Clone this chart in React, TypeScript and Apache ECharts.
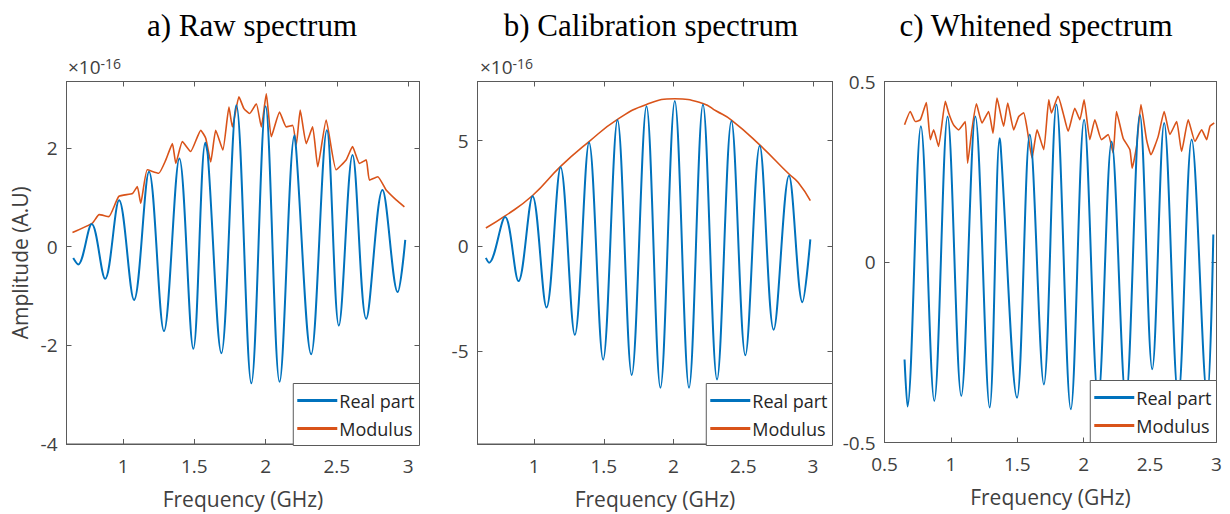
import React, { useEffect, useRef } from "react";
import * as echarts from "echarts";

// ---------- data (amplitudes of panels a and b in units of 1e-16) ----------
const rawReal: number[][] = [
  [0.65, -0.23], [0.685, -0.36], [0.78, 0.46], [0.874, -0.65], [0.972, 0.94], [1.077, -1.08],
  [1.182, 1.52], [1.287, -1.71], [1.395, 1.79], [1.493, -2.07], [1.577, 2.11], [1.595, 1.85],
  [1.69, -2.16], [1.795, 2.87], [1.9, -2.77], [2.0, 2.85], [2.098, -2.74], [2.203, 2.26],
  [2.215, 1.95], [2.32, -2.18], [2.43, 2.36], [2.514, -1.6], [2.61, 1.86], [2.706, -1.46],
  [2.82, 1.15], [2.927, -0.92], [2.98, 0.14],
];
const rawModulus: number[][] = [
  [0.645, 0.29], [0.785, 0.48], [0.832, 0.65], [0.9, 0.61], [0.97, 1.02], [1.066, 1.08],
  [1.1, 1.22], [1.124, 0.88], [1.17, 1.56], [1.25, 1.49], [1.3, 1.76], [1.346, 2.09],
  [1.37, 1.69], [1.416, 2.13], [1.474, 1.93], [1.545, 2.36], [1.58, 2.2], [1.615, 1.72],
  [1.65, 2.36], [1.7, 1.96], [1.743, 2.83], [1.767, 2.43], [1.813, 3.04], [1.848, 2.8],
  [1.888, 2.7], [1.935, 2.9], [1.97, 2.43], [2.005, 3.1], [2.04, 2.23], [2.098, 2.73],
  [2.145, 2.43], [2.19, 2.46], [2.215, 2.06], [2.243, 2.77], [2.285, 2.09], [2.33, 2.43],
  [2.366, 1.62], [2.425, 2.57], [2.495, 1.56], [2.565, 1.76], [2.61, 2.03], [2.659, 1.69],
  [2.706, 1.76], [2.729, 1.35], [2.787, 1.42], [2.846, 1.15], [2.916, 0.95], [2.974, 0.81],
];
const calReal: number[][] = [
  [0.654, -0.57], [0.677, -0.8], [0.792, 1.37], [0.888, -1.67], [0.989, 2.36], [1.089, -2.92],
  [1.19, 3.73], [1.292, -4.22], [1.394, 4.91], [1.495, -5.4], [1.598, 5.97], [1.7, -6.13],
  [1.806, 6.63], [1.906, -6.73], [2.009, 6.87], [2.111, -6.73], [2.211, 6.71], [2.312, -6.34],
  [2.415, 5.92], [2.515, -5.19], [2.618, 4.75], [2.718, -3.98], [2.828, 3.33], [2.924, -2.67],
  [2.981, 0.31],
];
const calModulus: number[][] = [
  [0.654, 0.85], [0.792, 1.42], [0.989, 2.39], [1.19, 3.77], [1.394, 4.95], [1.598, 6.0],
  [1.806, 6.71], [2.009, 6.98], [2.211, 6.76], [2.307, 6.4], [2.415, 5.97], [2.618, 4.79],
  [2.828, 3.41], [2.893, 3.02], [2.981, 2.15],
];
const whiteReal: number[][] = [
  [0.651, -0.27], [0.673, -0.4], [0.774, 0.376], [0.875, -0.385], [0.975, 0.403], [1.078, -0.371],
  [1.184, 0.403], [1.292, -0.403], [1.367, 0.343], [1.375, 0.32], [1.498, -0.376], [1.594, 0.353],
  [1.7, -0.339], [1.795, 0.436], [1.903, -0.408], [2.003, 0.394], [2.109, -0.38], [2.21, 0.334],
  [2.317, -0.38], [2.423, 0.408], [2.516, -0.297], [2.606, 0.385], [2.712, -0.375], [2.813, 0.339],
  [2.93, -0.375], [2.976, 0.076],
];
const whiteModulus: number[][] = [
  [0.651, 0.38], [0.694, 0.417], [0.732, 0.389], [0.77, 0.394], [0.815, 0.442], [0.845, 0.339],
  [0.87, 0.366], [0.907, 0.32], [0.958, 0.445], [0.983, 0.413], [1.02, 0.38], [1.058, 0.366],
  [1.108, 0.389], [1.126, 0.274], [1.158, 0.366], [1.192, 0.438], [1.234, 0.385], [1.284, 0.417],
  [1.317, 0.357], [1.347, 0.454], [1.397, 0.376], [1.428, 0.44], [1.473, 0.366], [1.511, 0.403],
  [1.548, 0.413], [1.573, 0.371], [1.611, 0.288], [1.649, 0.366], [1.699, 0.311], [1.737, 0.449],
  [1.757, 0.413], [1.807, 0.459], [1.845, 0.413], [1.883, 0.362], [1.933, 0.426], [1.971, 0.394],
  [2.003, 0.449], [2.046, 0.339], [2.084, 0.394], [2.134, 0.339], [2.184, 0.353], [2.222, 0.302],
  [2.247, 0.417], [2.297, 0.343], [2.348, 0.311], [2.365, 0.26], [2.398, 0.32], [2.431, 0.436],
  [2.473, 0.339], [2.506, 0.297], [2.561, 0.348], [2.606, 0.417], [2.649, 0.353], [2.7, 0.389],
  [2.737, 0.306], [2.787, 0.394], [2.838, 0.334], [2.888, 0.366], [2.926, 0.339], [2.951, 0.376],
  [2.983, 0.385],
];

const titles = ["a) Raw spectrum", "b) Calibration spectrum", "c) Whitened spectrum"];
const xTicksAB = [1, 1.5, 2, 2.5, 3];
const xTicksC = [0.5, 1, 1.5, 2, 2.5, 3];
const yTicksA = [-4, -2, 0, 2];
const yTicksB = [-5, 0, 5];
const yTicksC = [-0.5, 0, 0.5];
const seriesNames = ["Real part", "Modulus"];

const BLUE = "#0072BD";
const ORANGE = "#D95319";
const AX = "#5a5a5a";
const TXT = "#404040";
const SANS = "'Open Sans', 'Noto Sans', sans-serif";

export default function App() {
  const ref = useRef<HTMLDivElement>(null);
  useEffect(() => {
    const chart = echarts.init(ref.current!, null, { renderer: "svg" });

    const panels = [
      { grid: { left: 66.5, top: 81.5, width: 353, height: 364 }, xr: [0.603, 3.08], yr: [-4, 3.35], xt: xTicksAB, yt: yTicksA, real: rawReal, mod: rawModulus, yName: true },
      { grid: { left: 477.5, top: 81.5, width: 355, height: 364 }, xr: [0.594, 3.14], yr: [-9.4, 7.8], xt: xTicksAB, yt: yTicksB, real: calReal, mod: calModulus, yName: false },
      { grid: { left: 884.5, top: 81.5, width: 332, height: 361 }, xr: [0.5, 3.0], yr: [-0.5, 0.5], xt: xTicksC, yt: yTicksC, real: whiteReal, mod: whiteModulus, yName: false },
    ];

    const grids: any[] = [];
    const xAxes: any[] = [];
    const yAxes: any[] = [];
    const series: any[] = [];
    const legends: any[] = [];

    panels.forEach((p, i) => {
      grids.push({ ...p.grid, containLabel: false, show: true, borderColor: AX, borderWidth: 1, backgroundColor: "transparent" });
      const xBase = {
        gridIndex: i, type: "value", min: p.xr[0], max: p.xr[1],
        axisLine: { show: true, onZero: false, lineStyle: { color: AX, width: 1 } },
        splitLine: { show: false },
        axisTick: { show: true, inside: true, length: 5, customValues: p.xt, lineStyle: { color: AX } },
      };
      xAxes.push({
        ...xBase, position: "bottom",
        axisLabel: { customValues: p.xt, fontSize: 19, color: TXT, fontFamily: SANS, margin: 12 },
        name: "Frequency (GHz)", nameLocation: "middle", nameGap: 44,
        nameTextStyle: { fontSize: 21, color: TXT, fontFamily: SANS },
      });
      xAxes.push({ ...xBase, position: "top", axisLabel: { show: false } });
      const yBase = {
        gridIndex: i, type: "value", min: p.yr[0], max: p.yr[1],
        axisLine: { show: true, onZero: false, lineStyle: { color: AX, width: 1 } },
        splitLine: { show: false },
        axisTick: { show: true, inside: true, length: 5, customValues: p.yt, lineStyle: { color: AX } },
      };
      yAxes.push({
        ...yBase, position: "left",
        axisLabel: { customValues: p.yt, fontSize: 19, color: TXT, fontFamily: SANS, margin: 9 },
        ...(p.yName
          ? {
              name: "Amplitude (A.U)", nameLocation: "middle", nameGap: 36, nameRotate: 90,
              nameTextStyle: { fontSize: 21, color: TXT, fontFamily: SANS },
            }
          : {}),
      });
      yAxes.push({ ...yBase, position: "right", axisLabel: { show: false } });

      series.push({
        name: seriesNames[0], type: "line", xAxisIndex: 2 * i, yAxisIndex: 2 * i,
        data: p.real, showSymbol: false, symbol: "none", smooth: 0.35,
        lineStyle: { color: BLUE, width: 2 }, itemStyle: { color: BLUE }, z: 3,
      });
      series.push({
        name: seriesNames[1], type: "line", xAxisIndex: 2 * i, yAxisIndex: 2 * i,
        data: p.mod, showSymbol: false, symbol: "none", smooth: i === 1 ? 0.5 : 0.15,
        lineStyle: { color: ORANGE, width: 1.6 }, itemStyle: { color: ORANGE }, z: 2,
      });

      const rightEdge = p.grid.left + p.grid.width;
      const bottomEdge = p.grid.top + p.grid.height;
      legends.push({
        data: seriesNames.map((n) => ({ name: n, icon: "rect" })), orient: "vertical",
        right: 1230 - rightEdge, bottom: 514 - bottomEdge,
        backgroundColor: "#ffffff", borderColor: AX, borderWidth: 1,
        padding: [5, 5, 5, 4], itemGap: 4, itemWidth: 40, itemHeight: 3,
        textStyle: { fontSize: 18, color: "#262626", fontFamily: SANS, lineHeight: 24, padding: [0, 0, 0, -3] },
        selectedMode: false, z: 10,
      });
    });

    const graphics: any[] = [];
    const titleX = [252, 651, 1036];
    titles.forEach((t, i) => {
      graphics.push({
        type: "text", x: titleX[i], y: 25,
        style: { text: t, fontSize: 31, fontFamily: "'Liberation Serif', serif", fill: "#000", textAlign: "center", textVerticalAlign: "middle" },
      });
    });
    [68, 480].forEach((x) => {
      graphics.push({
        type: "text", x, y: 66,
        style: {
          text: "{a|×10}{b|-16}",
          rich: {
            a: { fontSize: 19, fontFamily: SANS, fill: TXT, verticalAlign: "bottom", lineHeight: 20 },
            b: { fontSize: 14, fontFamily: SANS, fill: TXT, verticalAlign: "top", padding: [0, 0, 10, 0], lineHeight: 20 },
          },
          verticalAlign: "middle",
        },
      });
    });

    chart.setOption({
      animation: false,
      backgroundColor: "#ffffff",
      grid: grids,
      xAxis: xAxes,
      yAxis: yAxes,
      series,
      legend: legends,
      graphic: graphics,
    });
    return () => chart.dispose();
  }, []);

  return <div ref={ref} style={{ position: "fixed", left: 0, top: 0, width: 1230, height: 514 }} />;
}
